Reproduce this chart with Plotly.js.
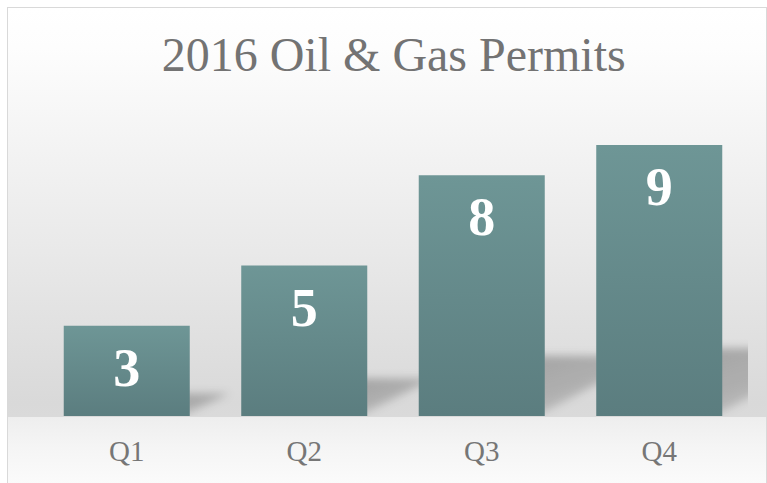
<!DOCTYPE html>
<html>
<head>
<meta charset="utf-8">
<script src="https://cdn.plot.ly/plotly-3.0.1.min.js"></script>
<style>
  html, body { margin: 0; padding: 0; background: #ffffff; }
  #wrap { position: relative; width: 767px; height: 483px; overflow: hidden; }
  #bg {
    position: absolute; left: 7px; top: 7px; width: 760px; height: 490px;
    box-sizing: border-box; border: 1px solid #d9d9d9;
    background: linear-gradient(to bottom,
      #ffffff 0px, #fdfdfd 40px, #e9e9e9 243px, #d9d9d9 395px, #dadada 409px,
      #eeeeee 409px, #f5f5f5 440px, #fbfbfb 476px);
  }
  #chart { position: absolute; left: 0; top: 0; width: 767px; height: 483px; }
</style>
</head>
<body>
<div id="wrap">
  <div id="bg"></div>
  <div id="chart"></div>
</div>
<script>
const quarters = ['Q1', 'Q2', 'Q3', 'Q4'];
const permits = [3, 5, 8, 9];
const chartTitle = '2016 Oil & Gas Permits';

const SERIF = '"Liberation Serif", "Times New Roman", Times, serif';

const trace = {
  type: 'bar',
  x: quarters,
  y: permits,
  marker: { color: '#64898a', line: { width: 0 } },
  texttemplate: '%{y}',
  textposition: 'inside',
  insidetextanchor: 'end',
  constraintext: 'none',
  textangle: 0,
  textfont: { family: SERIF, size: 54, color: '#ffffff', weight: 'bold' },
  hoverinfo: 'none'
};

const layout = {
  width: 767, height: 483, autosize: false,
  margin: { l: 38, r: 19, t: 115, b: 67, pad: 0 },
  paper_bgcolor: 'rgba(0,0,0,0)',
  plot_bgcolor: 'rgba(0,0,0,0)',
  bargap: 0.29,
  showlegend: false,
  title: {
    text: chartTitle,
    font: { family: SERIF, size: 48, color: '#737373' },
    x: 0.501, xanchor: 'center', xref: 'paper',
    y: 0.888, yanchor: 'middle', yref: 'container'
  },
  xaxis: {
    type: 'category',
    showgrid: false, zeroline: false, showline: false, ticks: '',
    tickfont: { family: SERIF, size: 29, color: '#767676' },
    ticklabelstandoff: 15
  },
  yaxis: {
    range: [0, 10], visible: false, showgrid: false, zeroline: false, fixedrange: true
  }
};

Plotly.newPlot('chart', [trace], layout, { staticPlot: true, displayModeBar: false }).then(function (gd) {
  const svgNS = 'http://www.w3.org/2000/svg';
  const svg = gd.querySelector('svg.main-svg');
  let defs = svg.querySelector('defs');
  if (!defs) { defs = document.createElementNS(svgNS, 'defs'); svg.insertBefore(defs, svg.firstChild); }

  const grad = document.createElementNS(svgNS, 'linearGradient');
  grad.setAttribute('id', 'barGrad');
  grad.setAttribute('x1', '0'); grad.setAttribute('y1', '0');
  grad.setAttribute('x2', '0'); grad.setAttribute('y2', '1');
  [['0', '#6e9696'], ['1', '#5b7d7f']].forEach(function (s) {
    const st = document.createElementNS(svgNS, 'stop');
    st.setAttribute('offset', s[0]); st.setAttribute('stop-color', s[1]);
    grad.appendChild(st);
  });
  defs.appendChild(grad);

  const sgrad = document.createElementNS(svgNS, 'linearGradient');
  sgrad.setAttribute('id', 'shadowGrad');
  sgrad.setAttribute('x1', '0'); sgrad.setAttribute('y1', '0');
  sgrad.setAttribute('x2', '0.6'); sgrad.setAttribute('y2', '1');
  [['0', '#000000', '0.26'], ['0.5', '#000000', '0.2'], ['1', '#000000', '0.06']].forEach(function (s) {
    const st = document.createElementNS(svgNS, 'stop');
    st.setAttribute('offset', s[0]); st.setAttribute('stop-color', s[1]); st.setAttribute('stop-opacity', s[2]);
    sgrad.appendChild(st);
  });
  defs.appendChild(sgrad);

  const filt = document.createElementNS(svgNS, 'filter');
  filt.setAttribute('id', 'shadowBlur');
  filt.setAttribute('x', '-50%'); filt.setAttribute('y', '-50%');
  filt.setAttribute('width', '200%'); filt.setAttribute('height', '200%');
  const blur = document.createElementNS(svgNS, 'feGaussianBlur');
  blur.setAttribute('stdDeviation', '4');
  filt.appendChild(blur);
  defs.appendChild(filt);

  gd.querySelectorAll('.trace.bars .point').forEach(function (pt) {
    const path = pt.querySelector('path');
    if (!path) return;
    const bb = path.getBBox();
    const base = bb.y + bb.height;
    const xR = bb.x + bb.width;
    const h = bb.height;
    const top = base - 0.25 * h;
    const reach = xR + 0.44 * h;
    const sh = document.createElementNS(svgNS, 'path');
    sh.setAttribute('d', 'M' + (xR - 12) + ',' + (base + 2) + 'L' + (xR - 12) + ',' + top +
      'L' + reach + ',' + top + 'L' + (xR - 12) + ',' + (base + 2) + 'Z');
    sh.setAttribute('fill', 'url(#shadowGrad)');
    sh.setAttribute('filter', 'url(#shadowBlur)');
    pt.insertBefore(sh, path);
    path.style.fill = 'url(#barGrad)';

    const txt = pt.querySelector('text');
    if (txt) {
      const tr = txt.getAttribute('transform') || '';
      txt.setAttribute('transform', 'translate(0,9) ' + tr);
    }
  });
});
</script>
</body>
</html>
